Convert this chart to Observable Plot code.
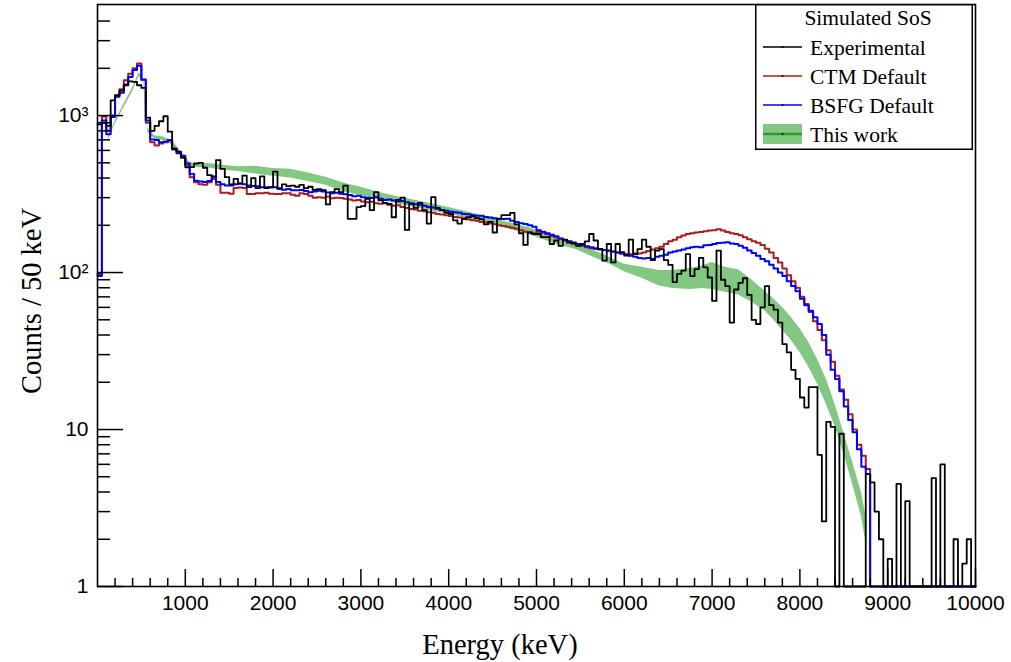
<!DOCTYPE html>
<html>
<head>
<meta charset="utf-8">
<script src="https://cdn.jsdelivr.net/npm/d3@7"></script>
<script src="https://cdn.jsdelivr.net/npm/@observablehq/plot@0.6"></script>
<style>
  html, body { margin: 0; padding: 0; background: #fff; }
  #wrap { position: relative; width: 1011px; height: 662px; overflow: hidden; }
  #legend { position: absolute; left: 755px; top: 4px; }
</style>
</head>
<body>
<div id="wrap"></div>
<script>
// ---------- data (counts per 50 keV bin, bins 0..199 covering 0..10000 keV) ----------
const binWidth = 50;

const experimental = [
  880, 900, 860, 1250, 1340, 1440, 1560, 1650, 1640, 1560,
  1500, 970, 800, 860, 920, 990, 790, 610, 590, 540,
  468, 470, 495, 500, 465, 417, 410, 520, 458, 405,
  365, 395, 370, 415, 350, 400, 345, 410, 345, 350,
  440, 345, 365, 355, 358, 352, 362, 345, 352, 336,
  340, 335, 272, 325, 340, 325, 358, 220, 220, 261,
  265, 295, 250, 325, 288, 278, 274, 225, 290, 300,
  187, 274, 258, 278, 250, 205, 302, 258, 250, 240,
  236, 215, 205, 219, 225, 228, 222, 219, 203, 210,
  180, 220, 232, 232, 240, 203, 178, 150, 180, 176,
  176, 168, 168, 152, 160, 148, 162, 155, 155, 148,
  152, 158, 176, 160, 141, 119, 152, 116, 152, 135,
  128, 162, 131, 141, 162, 146, 120, 138, 141, 120,
  112, 87, 98, 103, 131, 95, 105, 124, 108, 93,
  66, 138, 90, 82, 48, 78, 86, 92, 72, 50,
  47, 60, 82, 62, 58, 48, 35, 31, 24, 21,
  16, 13.8, 18.6, 18.6, 6.9, 2.6, 11.2, 10.4, 0, 9.4,
  0, 0, 0, 0, 0, 5.2, 4.6, 3, 2, 0,
  1.5, 0, 4.5, 0, 3.5, 0, 0, 0, 0, 0,
  4.9, 0, 6, 0, 0, 2, 0, 1.4, 2, 0
];

const ctmDefault = [
  98, 985, 800, 1000, 1350, 1470, 1680, 1850, 2000, 2150,
  1700, 900, 675, 645, 665, 677, 695, 620, 585, 540,
  480, 405, 376, 365, 362, 376, 394, 362, 322, 322,
  318, 345, 348, 345, 316, 316, 320, 320, 322, 318,
  316, 316, 320, 320, 313, 308, 320, 316, 308, 300,
  302, 300, 305, 297, 300, 298, 295, 292, 288, 290,
  284, 280, 282, 276, 274, 276, 270, 266, 268, 262,
  258, 254, 252, 248, 246, 242, 240, 236, 234, 232,
  229, 226, 224, 222, 218, 215, 214, 210, 208, 205,
  203, 200, 198, 196, 193, 190, 186, 182, 180, 178,
  182, 179, 176, 171, 168, 164, 160, 156, 152, 150,
  148, 145, 143, 141, 140, 139, 137, 136, 134, 132,
  131, 131, 132, 132, 134, 137, 140, 143, 146, 152,
  158, 162, 168, 172, 176, 178, 180, 181, 183, 185,
  186, 189, 185, 181, 178, 176, 173, 168, 163, 158,
  155, 150, 142, 134, 124, 116, 106, 96, 88, 80,
  70, 63, 56, 49, 43, 37, 32, 27, 22, 18,
  15.5, 12.5, 10, 8, 6.8, 5.6, 0, 0, 0, 0,
  0, 0, 0, 0, 0, 0, 0, 0, 0, 0,
  0, 0, 0, 0, 0, 0, 0, 0, 0, 0
];

const bsfgDefault = [
  95, 930, 760, 980, 1320, 1400, 1580, 1760, 1950, 2080,
  1690, 930, 705, 700, 675, 680, 700, 610, 575, 555,
  495, 425, 385, 380, 378, 383, 408, 378, 365, 358,
  358, 365, 368, 365, 358, 356, 355, 350, 350, 348,
  350, 340, 337, 340, 334, 334, 336, 331, 325, 328,
  332, 328, 323, 320, 322, 318, 315, 312, 306, 308,
  302, 300, 298, 302, 295, 290, 292, 288, 284, 286,
  280, 276, 272, 270, 266, 262, 260, 255, 250, 248,
  244, 242, 240, 236, 235, 232, 230, 230, 226, 224,
  222, 220, 219, 220, 214, 210, 206, 204, 200, 196,
  186, 182, 178, 174, 170, 165, 161, 158, 155, 152,
  150, 147, 145, 143, 141, 139, 138, 136, 134, 132,
  130, 128, 126, 124, 123, 124, 122, 126, 128, 130,
  134, 136, 138, 140, 143, 145, 146, 145, 149, 150,
  152, 154, 155, 156, 153, 152, 148, 144, 138, 133,
  128, 122, 118, 112, 106, 100, 95, 88, 82, 76,
  68, 62, 57, 52, 47, 40, 30, 24, 21, 17.5,
  14, 11.5, 9.6, 7.5, 5.8, 5.2, 0, 0, 0, 0,
  0, 0, 0, 0, 0, 0, 0, 0, 0, 0,
  0, 0, 0, 0, 0, 0, 0, 0, 0, 0
];

// "This work" uncertainty band (keV, lower, upper)
const bandEnergy = [120, 200, 300, 400, 475, 525, 575, 650, 750, 850, 950, 1050, 1150, 1250, 1350, 1450, 1600, 1800, 2000, 2200, 2400, 2600, 2800, 3000, 3200, 3400, 3600, 3800, 4000, 4300, 4600, 4900, 5200, 5450, 5650, 5850, 6000, 6200, 6400, 6550, 6750, 6900, 7000, 7150, 7300, 7450, 7600, 7700, 7800, 7900, 8000, 8100, 8200, 8300, 8400, 8500, 8600, 8700, 8760];
const bandLow    = [690, 880, 1120, 1420, 1780, 1600, 780, 710, 695, 650, 560, 480, 465, 465, 455, 448, 440, 425, 410, 400, 380, 360, 328, 308, 292, 275, 262, 247, 236, 215, 195, 176, 153, 140, 125, 112, 101, 92, 82, 79, 78, 79, 78, 75, 72, 65, 57, 50, 43, 37, 31, 25, 19.5, 14.5, 10.5, 7, 4.5, 2.8, 1.8];
const bandHigh   = [720, 920, 1180, 1500, 1880, 1700, 830, 745, 730, 690, 590, 505, 490, 495, 490, 480, 472, 475, 460, 455, 430, 405, 372, 350, 325, 305, 290, 275, 260, 237, 214, 194, 170, 155, 138, 124, 113, 108, 103, 103, 106, 111, 116, 108, 104, 90, 76, 68, 60, 52, 44, 36, 28, 21, 14.5, 9.5, 6.2, 4, 2.7];

const xTicks = [1000, 2000, 3000, 4000, 5000, 6000, 7000, 8000, 9000, 10000];
const xMinorTicks = d3.range(200, 10000, 200).filter(v => v % 1000 !== 0);
const yTicks = [1, 10, 100, 1000];
const yTickLabels = ["1", "10", "10\u00B2", "10\u00B3"];
const yMinorTicks = [2,3,4,5,6,7,8,9, 20,30,40,50,60,70,80,90, 200,300,400,500,600,700,800,900, 2000,3000,4000];

const seriesNames = ["Experimental", "CTM Default", "BSFG Default", "This work"];
const seriesColors = ["#000000", "#a81e1e", "#0000ff", "#2e9a2e"];
const bandFill = "#82c882";

// ---------- build ----------
function steps(values) {
  const pts = values.map((v, i) => ({x: i * binWidth, y: Math.max(v, 1)}));
  pts.push({x: values.length * binWidth, y: Math.max(values[values.length - 1], 1)});
  return pts;
}
const band = bandEnergy.map((e, i) => ({E: e, lo: bandLow[i], hi: bandHigh[i]}));

const W = 1011, H = 662, mL = 97, mR = 36, mT = 4, mB = 76;
const innerW = W - mL - mR, innerH = H - mT - mB;

const chart = Plot.plot({
  width: W, height: H,
  marginLeft: mL, marginRight: mR, marginTop: mT, marginBottom: mB,
  x: {domain: [0, 10000]},
  y: {type: "log", domain: [1, 5100]},
  style: {fontFamily: '"Liberation Sans", Arial, Helvetica, sans-serif', fontSize: "21px", color: "#000", background: "#fff", overflow: "visible"},
  marks: [
    Plot.areaY(band, {x: "E", y1: "lo", y2: "hi", fill: bandFill, curve: "linear"}),
    Plot.line(steps(ctmDefault), {x: "x", y: "y", curve: "step-after", stroke: seriesColors[1], strokeWidth: 2}),
    Plot.line(steps(bsfgDefault), {x: "x", y: "y", curve: "step-after", stroke: seriesColors[2], strokeWidth: 2}),
    Plot.line(steps(experimental), {x: "x", y: "y", curve: "step-after", stroke: seriesColors[0], strokeWidth: 1.8}),
    Plot.tickX(xMinorTicks, {x: d => d, insetTop: innerH - 8, stroke: "#000", strokeWidth: 1.5}),
    Plot.tickX(xTicks, {x: d => d, insetTop: innerH - 17, stroke: "#000", strokeWidth: 1.5}),
    Plot.tickY(yMinorTicks, {y: d => d, insetRight: innerW - 13, stroke: "#000", strokeWidth: 1.5}),
    Plot.tickY(yTicks, {y: d => d, insetRight: innerW - 26, stroke: "#000", strokeWidth: 1.5}),
    Plot.frame({stroke: "#000", strokeWidth: 1.6}),
    Plot.axisX({ticks: xTicks, tickSize: 0, tickPadding: 9, label: null, fontSize: 21,
                tickFormat: d => String(d)}),
    Plot.axisY({ticks: yTicks, tickSize: 0, tickPadding: 9, label: null, fontSize: 21,
                tickFormat: d => yTickLabels[yTicks.indexOf(d)]})
  ]
});
document.getElementById("wrap").appendChild(chart);

// axis titles
const svg = d3.select(chart);
svg.append("text")
  .attr("x", 500).attr("y", 654)
  .attr("text-anchor", "middle")
  .style("font-family", '"Liberation Serif", "Times New Roman", serif')
  .style("font-size", "28.5px")
  .text("Energy (keV)");
svg.append("text")
  .attr("transform", "translate(41,301) rotate(-90)")
  .attr("text-anchor", "middle")
  .style("font-family", '"Liberation Serif", "Times New Roman", serif')
  .style("font-size", "28.5px")
  .text("Counts / 50 keV");

// legend
const lw = 218, lh = 146;
const leg = d3.select("#wrap").append("svg")
  .attr("id", "legend").attr("width", lw).attr("height", lh)
  .style("font-family", '"Liberation Serif", "Times New Roman", serif')
  .style("font-size", "21.5px");
leg.append("rect").attr("x", 0.75).attr("y", 0.75).attr("width", lw - 1.5).attr("height", lh - 1.5)
  .attr("fill", "#fff").attr("stroke", "#000").attr("stroke-width", 1.5);
leg.append("text").attr("x", 113).attr("y", 13).attr("dy", "0.35em")
  .attr("text-anchor", "middle").text("Simulated SoS");
const rowY = [43, 72, 101, 130];
seriesNames.forEach((name, i) => {
  const g = leg.append("g");
  if (i === 3) {
    g.append("rect").attr("x", 8).attr("y", rowY[i] - 10).attr("width", 39).attr("height", 20).attr("fill", bandFill);
  }
  g.append("line").attr("x1", 8).attr("x2", 47).attr("y1", rowY[i]).attr("y2", rowY[i])
    .attr("stroke", seriesColors[i]).attr("stroke-width", i === 3 ? 2.5 : 1.5);
  g.append("circle").attr("cx", 27.5).attr("cy", rowY[i]).attr("r", 1).attr("fill", "#000");
  g.append("text").attr("x", 55).attr("y", rowY[i]).attr("dy", "0.35em").text(name);
});
</script>
</body>
</html>
